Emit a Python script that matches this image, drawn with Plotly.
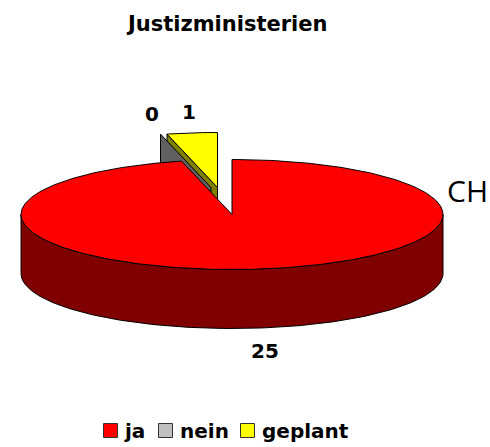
import math
import plotly.graph_objects as go

categories = ["ja", "nein", "geplant"]
values = [25, 0, 1]
value_labels = ["25", "0", "1"]
top_colors = ["#FF0000", "#C0C0C0", "#FFFF00"]
wall_colors = ["#800000", "#606060", "#808000"]
side_label = "CH"
title_text = "Justizministerien"

CX, CY, RX, RY, DEPTH = 232, 214.5, 211, 55, 59
OFFSETS = [(0, 0), (21, 27), (14.5, 27)]
FONT = "DejaVu Sans"
TEXT_SIZE = 20


def rim(angle, off=(0, 0), drop=0):
    a = math.radians(angle)
    return (CX + RX * math.sin(a) - off[0], CY - RY * math.cos(a) - off[1] + drop)


def arc(a0, a1, off=(0, 0), drop=0, n=160):
    return [rim(a0 + (a1 - a0) * i / n, off, drop) for i in range(n + 1)]


def poly(points, fill, name=None):
    return go.Scatter(
        x=[p[0] for p in points], y=[p[1] for p in points], mode="lines",
        fill="toself", fillcolor=fill, line=dict(color="#000000", width=1),
        name=name, hoverinfo="skip", showlegend=False,
    )


total = sum(values)
starts, ends, acc = [], [], 0
for v in values:
    starts.append(acc / total * 360)
    acc += v
    ends.append(acc / total * 360)

fig = go.Figure()

# exploded "geplant" slice: cut wall, then (after "nein") its top
apex2 = (CX - OFFSETS[2][0], CY - OFFSETS[2][1])
rl2 = rim(starts[2], OFFSETS[2])
fig.add_trace(poly([rl2, apex2, (apex2[0], apex2[1] + DEPTH), (rl2[0], rl2[1] + DEPTH), rl2], wall_colors[2]))

# exploded "nein" slice (zero sweep: only its cut wall is visible)
apex1 = (CX - OFFSETS[1][0], CY - OFFSETS[1][1])
r1 = rim(starts[1] if values[1] else starts[2], OFFSETS[1])
fig.add_trace(poly([r1, apex1, (apex1[0], apex1[1] + DEPTH), (r1[0], r1[1] + DEPTH), r1], wall_colors[1], categories[1]))

fig.add_trace(poly([apex2] + arc(starts[2], ends[2], OFFSETS[2], n=30) + [apex2], top_colors[2], categories[2]))

# main slice: front wall + top
front = arc(90, 270)
fig.add_trace(poly(front + arc(270, 90, drop=DEPTH) + [front[0]], wall_colors[0]))
apex0 = (CX, CY)
fig.add_trace(poly([apex0] + arc(starts[0], ends[0], n=360) + [apex0], top_colors[0], categories[0]))

# legend swatches
swatch_x = [110.5, 165.5, 247.5]
fig.add_trace(go.Scatter(
    x=swatch_x, y=[430.5] * 3, mode="markers", hoverinfo="skip", showlegend=False,
    marker=dict(symbol="square", size=14, color=top_colors, line=dict(color="#333333", width=1)),
))

ann = []


def text(x, y, s, size=TEXT_SIZE, bold=True, anchor="center", family=FONT):
    ann.append(dict(
        x=x, y=y, text=f"<b>{s}</b>" if bold else s, showarrow=False, xanchor=anchor, yanchor="middle",
        xref="x", yref="y", font=dict(family=family, size=size, color="#000000"),
    ))


text(226, 24, title_text, size=21)
text(265, 351, value_labels[0])
text(152, 114, value_labels[1])
text(189, 112, value_labels[2])
text(445, 190, side_label, size=30, bold=False, anchor="left", family="Open Sans")
for c, x in zip(categories, [122, 178, 260]):
    text(x, 431, c, anchor="left")

fig.update_layout(
    width=490, height=447, margin=dict(l=0, r=0, t=0, b=0),
    paper_bgcolor="#FFFFFF", plot_bgcolor="#FFFFFF", annotations=ann,
    xaxis=dict(range=[0, 490], visible=False, fixedrange=True),
    yaxis=dict(range=[447, 0], visible=False, fixedrange=True),
    showlegend=False,
)
fig.write_html("out.html", config=dict(displayModeBar=False), post_script="document.body.style.margin='0';")
